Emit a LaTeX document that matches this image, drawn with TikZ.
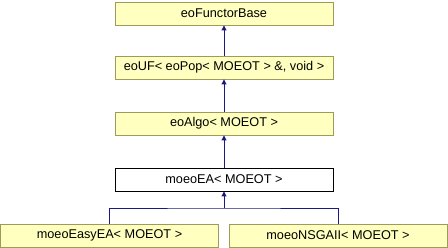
\documentclass[tikz,border=0pt]{standalone}
\usepackage{fontspec}
\setmainfont{Liberation Sans}
\usetikzlibrary{arrows.meta}
\definecolor{boxfill}{RGB}{255,255,192}
\definecolor{boxline}{RGB}{158,154,90}
\definecolor{edgecol}{RGB}{25,25,128}
\begin{document}
\begin{tikzpicture}[x=1pt,y=-1pt,
  cls/.style={draw=boxline,fill=boxfill,line width=0.9pt,minimum width=218pt,minimum height=23pt,inner sep=0pt,font=\fontsize{12.7}{14}\selectfont},
  cur/.style={cls,draw=black,fill=white},
  inh/.style={draw=edgecol,line width=0.9pt,-{Triangle[length=5pt,width=5pt]}}]
\useasboundingbox (0,0) rectangle (448,248);
\node[cls] (base) at (224,13.5) {eoFunctorBase};
\node[cls] (uf) at (224,67.5) {eoUF< eoPop< MOEOT > \&, void >};
\node[cls] (algo) at (224,123.5) {eoAlgo< MOEOT >};
\node[cur] (ea) at (224,179.5) {moeoEA< MOEOT >};
\node[cls] (easy) at (109.5,235.5) {moeoEasyEA< MOEOT >};
\node[cls] (nsga) at (338,235.5) {moeoNSGAII< MOEOT >};
\coordinate (j) at (224,208);
\draw[inh] (uf) -- (base);
\draw[inh] (algo) -- (uf);
\draw[inh] (ea) -- (algo);
\draw[inh] (ea.south |- j) -- (ea);
\draw[draw=edgecol,line width=0.9pt] (easy.north) |- (j) -| (nsga.north);
\end{tikzpicture}
\end{document}
